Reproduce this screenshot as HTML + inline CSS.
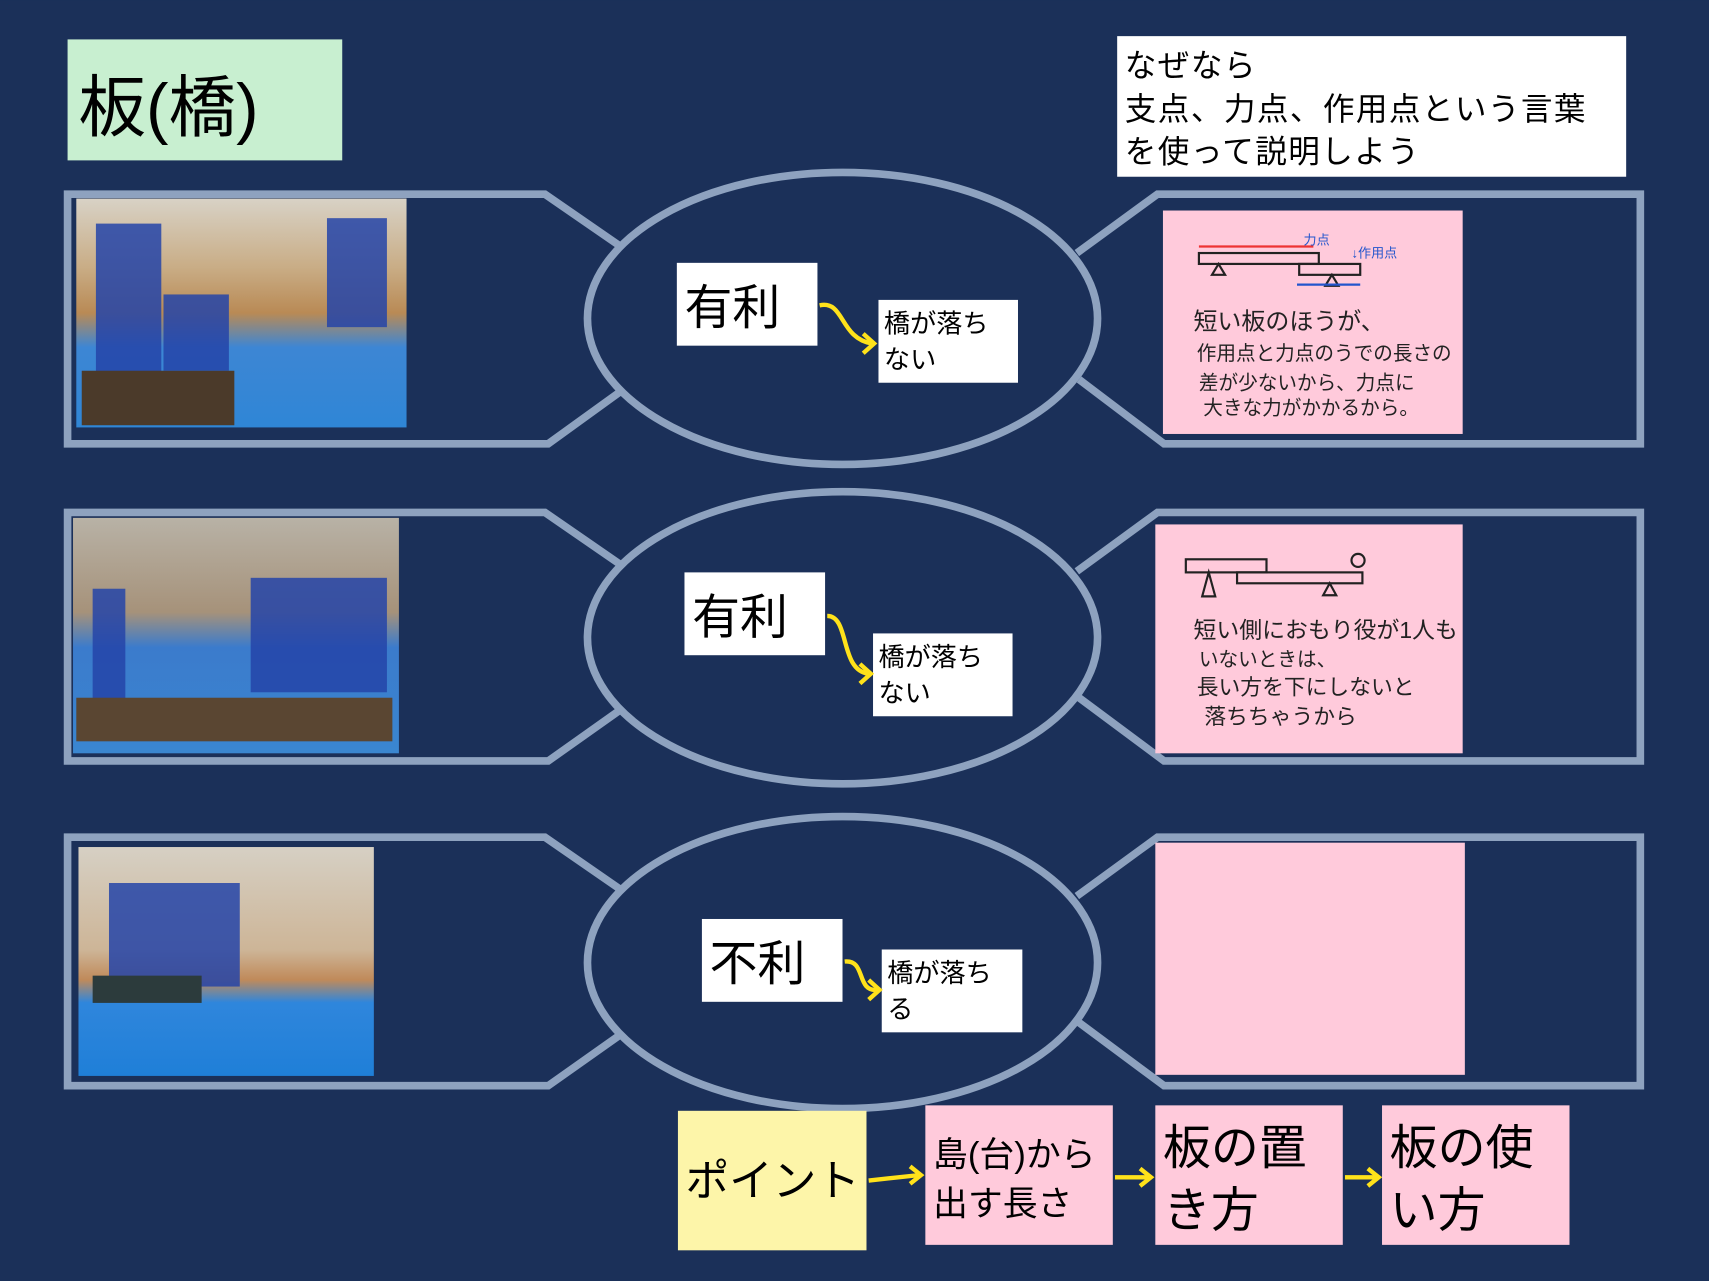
<!DOCTYPE html>
<html><head><meta charset="utf-8"><style>
html,body{margin:0;padding:0;background:#1b3059;}
svg{display:block}
text{font-family:"Liberation Sans","Noto Sans CJK JP",sans-serif;fill:#000}
.hw{font-family:"Liberation Sans","Noto Sans CJK JP",sans-serif;fill:#222}
</style></head><body>
<svg width="1709" height="1281" viewBox="0 0 1568 1175" xmlns="http://www.w3.org/2000/svg">
<defs>
<linearGradient id="p1" x1="0" y1="0" x2="0" y2="1">
<stop offset="0" stop-color="#d8d2c6"/><stop offset="0.3" stop-color="#c9ad86"/><stop offset="0.5" stop-color="#b98a55"/><stop offset="0.65" stop-color="#3d86d4"/><stop offset="1" stop-color="#2f86d6"/></linearGradient>
<linearGradient id="p2" x1="0" y1="0" x2="0" y2="1">
<stop offset="0" stop-color="#b8b2a6"/><stop offset="0.4" stop-color="#a6927a"/><stop offset="0.55" stop-color="#3b7bcc"/><stop offset="1" stop-color="#3a86d0"/></linearGradient>
<linearGradient id="p3" x1="0" y1="0" x2="0" y2="1">
<stop offset="0" stop-color="#d6d0c4"/><stop offset="0.45" stop-color="#cdb597"/><stop offset="0.58" stop-color="#c08a5a"/><stop offset="0.68" stop-color="#2f86dc"/><stop offset="1" stop-color="#1f7fd8"/></linearGradient>
</defs>
<rect width="1568" height="1175" fill="#1b3059"/>
<rect x="62" y="36" width="252" height="111" fill="#c8efd0"/>
<text x="72" y="120" font-size="62">板(橋)</text>
<rect x="1025" y="33" width="467" height="129" fill="#fff"/>
<text x="1032" y="70" font-size="29" letter-spacing="1.3">なぜなら</text>
<text x="1032" y="110" font-size="29" letter-spacing="1.3">支点、力点、作用点という言葉</text>
<text x="1032" y="149" font-size="29" letter-spacing="1.3">を使って説明しよう</text>

<g fill="none" stroke="#8ea2bf" stroke-width="7">
<path d="M568,360 L503,407 L62,407 L62,178 L500,178 L568,225"/>
<path d="M988,232 L1062,178 L1505,178 L1505,407 L1068,407 L990,348"/>
<ellipse cx="773" cy="292" rx="234" ry="134"/>
<path d="M568,652 L503,698 L62,698 L62,470 L500,470 L568,517"/>
<path d="M988,524 L1062,470 L1505,470 L1505,698 L1068,698 L990,640"/>
<ellipse cx="773" cy="585" rx="234" ry="134"/>
<path d="M568,950 L503,996 L62,996 L62,768 L500,768 L568,815"/>
<path d="M988,822 L1062,768 L1505,768 L1505,996 L1068,996 L990,938"/>
<ellipse cx="773" cy="883" rx="234" ry="134"/>
</g>

<rect x="70" y="182" width="303" height="210" fill="url(#p1)"/>
<rect x="88" y="205" width="60" height="140" fill="#2444a8" opacity="0.85"/>
<rect x="150" y="270" width="60" height="70" fill="#2444a8" opacity="0.85"/>
<rect x="300" y="200" width="55" height="100" fill="#2444a8" opacity="0.85"/>
<rect x="75" y="340" width="140" height="50" fill="#4b3a2a"/>
<rect x="67" y="475" width="299" height="216" fill="url(#p2)"/>
<rect x="85" y="540" width="30" height="110" fill="#2444a8" opacity="0.85"/>
<rect x="230" y="530" width="125" height="105" fill="#2444a8" opacity="0.85"/>
<rect x="70" y="640" width="290" height="40" fill="#5a4632"/>
<rect x="72" y="777" width="271" height="210" fill="url(#p3)"/>
<rect x="100" y="810" width="120" height="95" fill="#2444a8" opacity="0.85"/>
<rect x="85" y="895" width="100" height="25" fill="#2c3b3c"/>

<g fill="#fff">
<rect x="621" y="241" width="129" height="76"/>
<rect x="806" y="275" width="128" height="76"/>
<rect x="628" y="525" width="129" height="76"/>
<rect x="801" y="581" width="128" height="76"/>
<rect x="644" y="843" width="129" height="76"/>
<rect x="809" y="871" width="129" height="76"/>
</g>
<text x="628" y="297" font-size="44">有利</text>
<text x="811" y="305" font-size="24">橋が落ち</text>
<text x="811" y="338" font-size="24">ない</text>
<text x="635" y="581" font-size="44">有利</text>
<text x="806" y="611" font-size="24">橋が落ち</text>
<text x="806" y="644" font-size="24">ない</text>
<text x="651" y="899" font-size="44">不利</text>
<text x="814" y="901" font-size="24">橋が落ち</text>
<text x="814" y="934" font-size="24">る</text>

<g fill="none" stroke="#ffe21a" stroke-width="4">
<path d="M752,280 C775,275 770,310 800,315"/><path d="M792,306 L802,315 L792,324"/>
<path d="M759,565 C780,565 770,615 797,618"/><path d="M789,609 L799,618 L789,627"/>
<path d="M775,882 C795,880 785,910 805,908"/><path d="M797,899 L807,908 L797,917"/>
<path d="M797,1083 L843,1078"/><path d="M835,1070 L845,1078 L835,1086"/>
<path d="M1023,1080 L1054,1080"/><path d="M1046,1072 L1056,1080 L1046,1088"/>
<path d="M1234,1080 L1263,1080"/><path d="M1255,1072 L1265,1080 L1255,1088"/>
</g>

<rect x="1067" y="193" width="275" height="205" fill="#ffcadb"/>
<g stroke="#222" stroke-width="2" fill="none">
<rect x="1100" y="232" width="110" height="10"/><rect x="1192" y="242" width="56" height="10"/>
<path d="M1112,252 L1118,242 L1124,252 Z"/><path d="M1216,262 L1222,252 L1228,262 Z"/>
</g>
<path d="M1100,226 L1205,226" stroke="#e33" stroke-width="2"/>
<path d="M1190,261 L1248,261" stroke="#2255cc" stroke-width="2"/>
<text class="hw" x="1196" y="224" font-size="12" style="fill:#2255cc">力点</text>
<text class="hw" x="1240" y="236" font-size="12" style="fill:#2255cc">↓作用点</text>
<text class="hw" x="1095" y="302" font-size="22">短い板のほうが、</text>
<text class="hw" x="1098" y="330" font-size="18">作用点と力点のうでの長さの</text>
<text class="hw" x="1100" y="357" font-size="18">差が少ないから、力点に</text>
<text class="hw" x="1104" y="380" font-size="18">大きな力がかかるから。</text>

<rect x="1060" y="481" width="282" height="210" fill="#ffcadb"/>
<g stroke="#222" stroke-width="2" fill="none">
<rect x="1088" y="513" width="74" height="12"/><rect x="1135" y="525" width="115" height="10"/>
<path d="M1103,547 L1109,525 L1115,547 Z"/><path d="M1214,546 L1220,535 L1226,546 Z"/>
<circle cx="1246" cy="514" r="6"/>
</g>
<text class="hw" x="1095" y="585" font-size="21">短い側におもり役が1人も</text>
<text class="hw" x="1100" y="611" font-size="18">いないときは、</text>
<text class="hw" x="1098" y="637" font-size="20">長い方を下にしないと</text>
<text class="hw" x="1105" y="664" font-size="20">落ちちゃうから</text>

<rect x="1060" y="773" width="284" height="213" fill="#ffcadb"/>

<rect x="622" y="1019" width="173" height="128" fill="#fdf5a9"/>
<text x="629" y="1097" font-size="40">ポイント</text>
<rect x="849" y="1014" width="172" height="128" fill="#ffcadb"/>
<text x="856" y="1070" font-size="32">島(台)から</text>
<text x="856" y="1115" font-size="32">出す長さ</text>
<rect x="1060" y="1014" width="172" height="128" fill="#ffcadb"/>
<text x="1067" y="1068" font-size="44">板の置</text>
<text x="1067" y="1125" font-size="44">き方</text>
<rect x="1268" y="1014" width="172" height="128" fill="#ffcadb"/>
<text x="1275" y="1068" font-size="44">板の使</text>
<text x="1275" y="1125" font-size="44">い方</text>
</svg>
</body></html>
